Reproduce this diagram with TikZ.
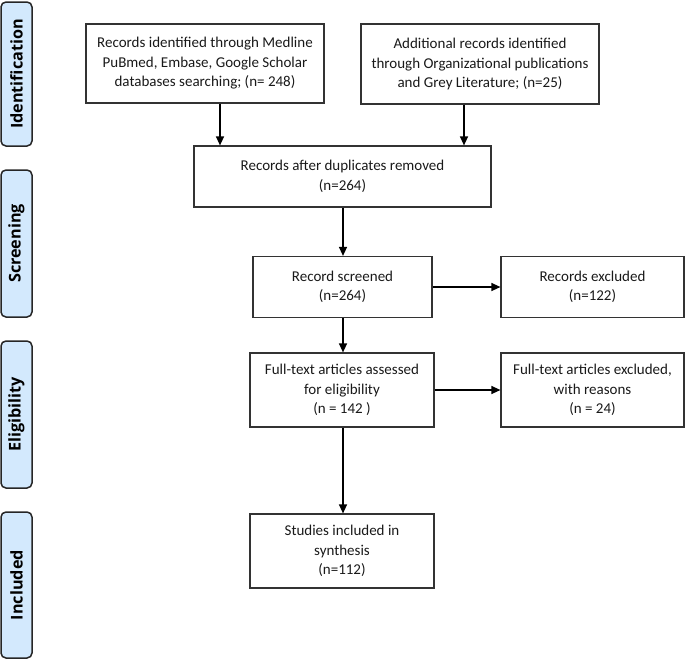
\documentclass[tikz,border=0pt]{standalone}
\usepackage{fontspec}
\setmainfont{Carlito}
\newfontfamily\labfont{Open Sans}
\usetikzlibrary{arrows.meta}
\definecolor{labfill}{HTML}{D3E9FD}
\definecolor{boxline}{HTML}{333333}
\tikzset{
  flowbox/.style={draw=boxline, line width=1.2pt, rectangle, align=center, inner sep=0pt,
    font=\fontsize{15}{19.5}\selectfont, text=black!90},
  phase/.style={draw=black!85, fill=labfill, line width=1.5pt, rounded corners=5pt, rectangle,
    minimum height=31pt, inner sep=0pt, rotate=90,
    font=\labfont\bfseries\fontsize{16.2}{20}\selectfont},
  arr/.style={line width=1.3pt, -{Triangle[length=9pt,width=8pt]}},
}
\begin{document}
\begin{tikzpicture}[x=1pt,y=-1pt]
\useasboundingbox (0,0) rectangle (685,659);
% phase labels
\node[phase, minimum width=144pt] (pid) at (16.5,74) {Identification};
\node[phase, minimum width=147pt] (psc) at (16.5,243.5) {Screening};
\node[phase, minimum width=147pt] (pel) at (16.5,414.5) {Eligibility};
\node[phase, minimum width=146pt] (pin) at (16.5,585) {Included};
% boxes
\node[flowbox, minimum width=238pt, minimum height=79pt] (b1) at (205,63.5)
  {Records identified through Medline\\PuBmed, Embase, Google Scholar\\databases searching; (n= 248)};
\node[flowbox, minimum width=238pt, minimum height=80pt] (b2) at (480,64)
  {Additional records identified\\through Organizational publications\\and Grey Literature; (n=25)};
\node[flowbox, minimum width=297pt, minimum height=61pt] (b3) at (342.5,176.5)
  {Records after duplicates removed\\(n=264)};
\node[flowbox, minimum width=179pt, minimum height=61pt] (b4) at (342.5,287)
  {Record screened\\(n=264)};
\node[flowbox, minimum width=183pt, minimum height=61pt] (b5) at (592.5,287)
  {Records excluded\\(n=122)};
\node[flowbox, minimum width=184pt, minimum height=74pt] (b6) at (342,390)
  {Full-text articles assessed\\for eligibility\\(n = 142 )};
\node[flowbox, minimum width=183pt, minimum height=74pt] (b7) at (592.5,390)
  {Full-text articles excluded,\\with reasons\\(n = 24)};
\node[flowbox, minimum width=184pt, minimum height=74pt] (b8) at (342,551)
  {Studies included in\\synthesis\\(n=112)};
% connectors
\coordinate (a1) at (220,0);
\coordinate (a2) at (464,0);
\coordinate (a3) at (343,0);
\draw[arr] (b1.south -| a1) -- (b3.north -| a1);
\draw[arr] (b2.south -| a2) -- (b3.north -| a2);
\draw[arr] (b3.south -| a3) -- (b4.north -| a3);
\draw[arr] (b4.south -| a3) -- (b6.north -| a3);
\draw[arr] (b6.south -| a3) -- (b8.north -| a3);
\draw[arr] (b4.east) -- (b5.west);
\draw[arr] (b6.east) -- (b7.west);
\end{tikzpicture}
\end{document}
